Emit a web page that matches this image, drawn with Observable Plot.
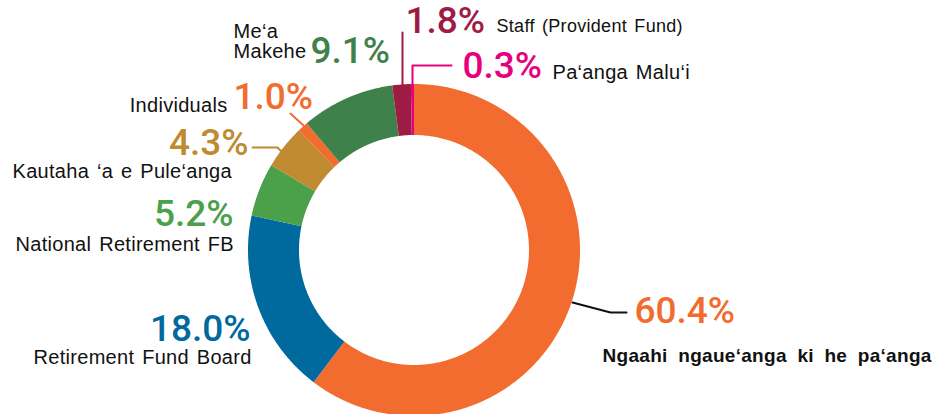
<!DOCTYPE html>
<html><head><meta charset="utf-8">
<script src="https://cdn.jsdelivr.net/npm/d3@7"></script>
<script src="https://cdn.jsdelivr.net/npm/@observablehq/plot@0.6"></script>
<style>body{margin:0;background:#fff} svg{display:block;background:#fff}</style>
</head><body><div id="chart"></div>
<script>
// ---- data ----
const categories = [
  "Ngaahi ngaue‘anga ki he pa‘anga",
  "Retirement Fund Board",
  "National Retirement FB",
  "Kautaha ‘a e Pule‘anga",
  "Individuals",
  "Me‘a Makehe",
  "Staff (Provident Fund)",
  "Pa‘anga Malu‘i"
];
const shares = [60.4, 18.0, 5.2, 4.3, 1.0, 9.1, 1.8, 0.3];
const percentLabels = shares.map(v => v.toFixed(1) + "%");

// ---- styles ----
const sliceColors = ["#F26B2F", "#00699D", "#4BA04A", "#BF8A30", "#F26B2F", "#3F814A", "#9E1B45", "#E6007E"];

// ---- layout (units: pixels relative to the ring centre, y up) ----
const ring = {outer: 166, inner: 115};
const pctLayout = [
  {i: 0, x: 220, y: -72, anchor: "start"},
  {i: 1, x: -164, y: -90, anchor: "end"},
  {i: 2, x: -181, y: 25, anchor: "end"},
  {i: 3, x: -166, y: 96, anchor: "end"},
  {i: 4, x: -181, y: 142, anchor: "start"},
  {i: 5, x: -104, y: 188, anchor: "start"},
  {i: 6, x: -9, y: 218, anchor: "start"},
  {i: 7, x: 48, y: 173, anchor: "start"}
];
const nameLayout = [
  {i: 0, x: 188, y: -111, anchor: "start", bold: true},
  {i: 1, x: -381, y: -113, anchor: "start"},
  {i: 2, x: -399, y: 0, anchor: "start"},
  {i: 3, x: -402, y: 73, anchor: "start"},
  {i: 4, x: -187, y: 139, anchor: "end"},
  {i: 5, x: -181, y: 193, anchor: "start", wrap: true},
  {i: 6, x: 82, y: 219, anchor: "start", size: 18},
  {i: 7, x: 138, y: 172, anchor: "start"}
];
const leaderLayout = [
  {i: 0, pts: [[158, -52], [196, -62], [212, -62]], dark: true},
  {i: 3, pts: [[-162, 103], [-137, 103], [-132, 98]]},
  {i: 4, pts: [[-124, 137], [-111, 125]]},
  {i: 6, pts: [[-12, 218], [-12, 165]]},
  {i: 7, pts: [[37, 185], [-2, 185], [-2, 165]]}
];

// ---- ring geometry from the shares ----
const arcs = d3.pie().sort(null).startAngle(0).endAngle(2 * Math.PI)(shares);
const ringRows = [];
arcs.forEach((a, i) => {
  const n = Math.max(2, Math.ceil((a.endAngle - a.startAngle) / (Math.PI / 360)));
  for (let k = 0; k <= n; k++) {
    const t = a.startAngle + (a.endAngle - a.startAngle) * k / n;
    ringRows.push({
      cat: categories[i],
      x1: ring.outer * Math.sin(t), y1: ring.outer * Math.cos(t),
      x2: ring.inner * Math.sin(t), y2: ring.inner * Math.cos(t)
    });
  }
});

const leaderRows = leaderLayout.flatMap(l => l.pts.map(([x, y]) => ({i: l.i, cat: categories[l.i], dark: !!l.dark, x, y})));
const pctRows = pctLayout.map(d => ({...d, cat: categories[d.i], text: percentLabels[d.i]}));
const nameRows = nameLayout.map(d => ({...d, cat: categories[d.i],
  text: d.wrap ? categories[d.i].replace(" ", "\n") : categories[d.i], size: d.bold ? 19 : (d.size || 20)}));

const cx = 414, cy = 250;
const pctFont = {fontFamily: "Roboto", fontSize: 37, fontWeight: 500, lineAnchor: "bottom"};
const nameFont = {fontFamily: "Liberation Sans, Arial, sans-serif", lineAnchor: "bottom", lineHeight: 1.0, fill: "#111"};

const chart = Plot.plot({
  width: 951,
  height: 414,
  margin: 0,
  x: {domain: [-ring.outer, ring.outer], range: [cx - ring.outer, cx + ring.outer], axis: null},
  y: {domain: [-ring.outer, ring.outer], range: [cy + ring.outer, cy - ring.outer], axis: null},
  color: {type: "ordinal", domain: categories, range: sliceColors},
  marks: [
    Plot.area(ringRows, {x1: "x1", y1: "y1", x2: "x2", y2: "y2", z: "cat", fill: "cat", curve: "linear"}),
    Plot.line(leaderRows.filter(d => !d.dark), {x: "x", y: "y", z: "i", stroke: "cat", strokeWidth: 2, curve: "linear"}),
    Plot.line(leaderRows.filter(d => d.dark), {x: "x", y: "y", z: "i", stroke: "#111", strokeWidth: 2, curve: "linear"}),
    Plot.text(pctRows.filter(d => d.anchor === "start"), {x: "x", y: "y", text: "text", fill: "cat", textAnchor: "start", ...pctFont}),
    Plot.text(pctRows.filter(d => d.anchor === "end"), {x: "x", y: "y", text: "text", fill: "cat", textAnchor: "end", ...pctFont}),
    Plot.text(nameRows.filter(d => !d.bold && d.anchor === "start"), {x: "x", y: "y", text: "text", fontSize: "size", textAnchor: "start", ...nameFont}),
    Plot.text(nameRows.filter(d => !d.bold && d.anchor === "end"), {x: "x", y: "y", text: "text", fontSize: "size", textAnchor: "end", ...nameFont}),
    Plot.text(nameRows.filter(d => d.bold), {x: "x", y: "y", text: "text", fontSize: "size", textAnchor: "start", fontWeight: "bold", ...nameFont})
  ]
});

// letter / word spacing of the category names
const plainNames = new Set(nameRows.filter(d => !d.bold).map(d => d.text.replace("\n", "")));
const boldNames = new Set(nameRows.filter(d => d.bold).map(d => d.text));
d3.select(chart).selectAll("text").each(function () {
  const t = this.textContent;
  if (plainNames.has(t)) d3.select(this).style("letter-spacing", "0.3px").style("word-spacing", "2px");
  else if (boldNames.has(t)) d3.select(this).style("letter-spacing", "0.3px").style("word-spacing", "5px");
});
document.getElementById("chart").appendChild(chart);
</script>
</body></html>
